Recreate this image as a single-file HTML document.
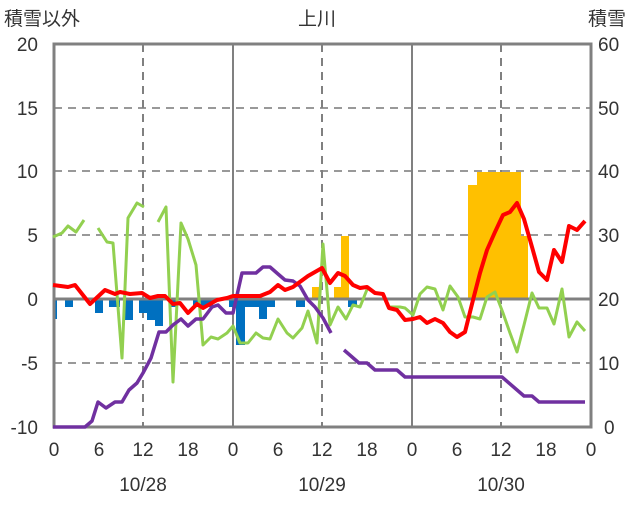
<!DOCTYPE html>
<html><head><meta charset="utf-8"><style>
body{margin:0;background:#fff;}
svg text{font-family:"Liberation Sans","Noto Sans CJK JP",sans-serif;font-size:19px;fill:#333;}
</style></head><body>
<svg width="636" height="501" viewBox="0 0 636 501" xmlns="http://www.w3.org/2000/svg">
<g stroke="#999" stroke-width="2" stroke-dasharray="8,6">
<line x1="54" y1="108" x2="591" y2="108"/>
<line x1="54" y1="171" x2="591" y2="171"/>
<line x1="54" y1="235" x2="591" y2="235"/>
<line x1="54" y1="363" x2="591" y2="363"/>
</g>
<g stroke="#808080" stroke-width="2" stroke-dasharray="8,6">
<line x1="143" y1="44" x2="143" y2="427"/>
<line x1="322" y1="44" x2="322" y2="427"/>
<line x1="501" y1="44" x2="501" y2="427"/>
</g>
<g stroke="#808080" stroke-width="2">
<line x1="233" y1="44" x2="233" y2="427"/>
<line x1="412" y1="44" x2="412" y2="427"/>
</g>
<g fill="#FFC000">
<rect x="312" y="287" width="7" height="12"/>
<rect x="334" y="287" width="7" height="12"/>
<rect x="341" y="236" width="8" height="63"/>
<rect x="468" y="185" width="9" height="114"/>
<rect x="477" y="172" width="44" height="127"/>
<rect x="521" y="236" width="7" height="63"/>
</g>
<g fill="#0070C0">
<rect x="53" y="299" width="4" height="20"/>
<rect x="65" y="299" width="8" height="8"/>
<rect x="95" y="299" width="8" height="14"/>
<rect x="109" y="299" width="11" height="8"/>
<rect x="125" y="299" width="8" height="21"/>
<rect x="139" y="299" width="8" height="14"/>
<rect x="147" y="299" width="8" height="21"/>
<rect x="155" y="299" width="8" height="27"/>
<rect x="171" y="299" width="6" height="8"/>
<rect x="193" y="299" width="20" height="8"/>
<rect x="229" y="299" width="7" height="8"/>
<rect x="236" y="299" width="9" height="46"/>
<rect x="245" y="299" width="14" height="8"/>
<rect x="259" y="299" width="8" height="20"/>
<rect x="267" y="299" width="8" height="8"/>
<rect x="296" y="299" width="9" height="8"/>
<rect x="348" y="299" width="9" height="8"/>
</g>
<line x1="54" y1="299" x2="591" y2="299" stroke="#808080" stroke-width="3"/>
<rect x="54" y="44" width="537" height="383" fill="none" stroke="#808080" stroke-width="3"/>
<g fill="none" stroke-width="3" stroke-linejoin="round">
<g stroke="#92D050">
<polyline points="53,237 62,233 68,226 76,232 84,220"/>
<polyline points="98,228 107,242 113,243 122,358 128,218 137,203 144,207"/>
<polyline points="158,222 166,207 173,382 181,223 188,239 196,265 203,345 211,337 218,339 227,333 233,326 240,343 248,343 256,333 263,338 270,339 278,319 287,333 293,338 302,328 308,311 317,343 323,244 330,325 338,307 346,319 353,305 360,307 368,287"/>
<polyline points="389,307 400,307 405,308 413,315 420,294 427,287 435,289 443,310 450,286 458,297 465,317 473,317 480,319 487,297 495,292 503,313 510,333 517,352 524,325 532,293 539,308 547,308 554,324 562,289 569,337 577,322 585,331"/>
</g>
<g stroke="#7030A0" stroke-width="3.5">
<polyline points="53,427 85,427 92,421 98,402 106,408 115,402 122,402 129,390 137,383 143,373 151,358 159,332 166,332 173,325 181,319 188,326 196,319 203,319 212,307 218,305 226,313 233,313 242,273 256,273 263,267 270,267 278,274 285,280 293,281 300,286 308,300 315,307 323,318 331,333"/>
<polyline points="344,350 359,363 367,363 375,370 397,370 405,377 502,377 524,396 532,396 539,402 585,402"/>
</g>
<polyline stroke="#FF0000" stroke-width="4" points="53,285 68,287 75,285 90,304 105,290 115,294 120,292 130,294 142,293 150,298 158,296 165,296 173,304 180,303 188,313 197,304 203,308 217,300 227,298 233,296 260,296 270,292 278,285 285,290 293,287 308,276 322,268 330,283 338,273 345,276 353,285 360,288 367,287 375,293 383,294 389,308 397,310 405,320 413,319 420,317 427,323 435,319 443,323 450,332 457,337 465,332 473,300 480,273 487,250 495,232 503,215 510,212 517,203 524,219 532,247 539,272 547,280 554,250 562,262 569,226 577,230 585,221"/>
</g>
<g text-anchor="end">
<text x="38" y="51">20</text><text x="38" y="115">15</text><text x="38" y="178">10</text><text x="38" y="242">5</text><text x="38" y="306">0</text><text x="38" y="370">-5</text><text x="38" y="434">-10</text>
</g>
<g text-anchor="start">
<text x="598" y="51">60</text><text x="598" y="115">50</text><text x="598" y="178">40</text><text x="598" y="242">30</text><text x="598" y="306">20</text><text x="598" y="370">10</text><text x="604" y="434">0</text>
</g>
<g text-anchor="middle">
<text x="54" y="456">0</text><text x="99" y="456">6</text><text x="143" y="456">12</text><text x="188" y="456">18</text>
<text x="233" y="456">0</text><text x="278" y="456">6</text><text x="322" y="456">12</text><text x="367" y="456">18</text>
<text x="412" y="456">0</text><text x="457" y="456">6</text><text x="501" y="456">12</text><text x="546" y="456">18</text><text x="591" y="456">0</text>
<text x="143" y="491">10/28</text><text x="322" y="491">10/29</text><text x="501" y="491">10/30</text>
<text x="317" y="25">上川</text>
</g>
<text x="4" y="25">積雪以外</text>
<text x="588" y="25">積雪</text>
</svg>
</body></html>
